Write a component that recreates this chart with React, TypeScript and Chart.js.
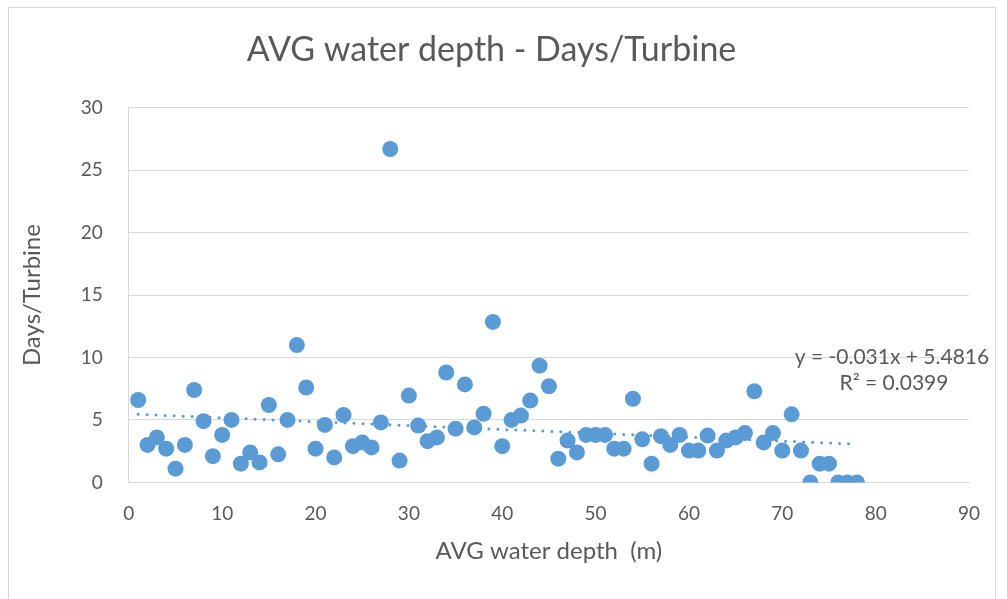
import React, { useEffect, useRef } from "react";
import { Chart, registerables } from "chart.js";

Chart.register(...registerables);

const depths: number[] = [
  1, 2, 3, 4, 5, 6, 7, 8, 9, 10, 11, 12, 13, 14, 15, 16, 17, 18, 19, 20,
  21, 22, 23, 24, 25, 26, 27, 28, 29, 30, 31, 32, 33, 34, 35, 36, 37, 38, 39, 40,
  41, 42, 43, 44, 45, 46, 47, 48, 49, 50, 51, 52, 53, 54, 55, 56, 57, 58, 59, 60,
  61, 62, 63, 64, 65, 66, 67, 68, 69, 70, 71, 72, 73, 74, 75, 76, 77, 78,
];
const daysPerTurbine: number[] = [
  6.6, 3.0, 3.6, 2.7, 1.1, 3.0, 7.4, 4.9, 2.1, 3.8, 5.0, 1.5, 2.4, 1.6, 6.2, 2.25, 5.0, 11.0, 7.6, 2.7,
  4.6, 2.0, 5.4, 2.9, 3.2, 2.8, 4.8, 26.7, 1.75, 6.95, 4.55, 3.3, 3.6, 8.8, 4.3, 7.85, 4.4, 5.5, 12.85, 2.9,
  5.0, 5.35, 6.55, 9.35, 7.7, 1.9, 3.35, 2.4, 3.8, 3.8, 3.8, 2.7, 2.7, 6.7, 3.45, 1.5, 3.7, 3.0, 3.8, 2.55,
  2.55, 3.75, 2.55, 3.35, 3.6, 3.95, 7.3, 3.2, 3.95, 2.55, 5.45, 2.55, 0, 1.5, 1.5, 0, 0, 0,
];
const xTicks: number[] = [0, 10, 20, 30, 40, 50, 60, 70, 80, 90];
const yTicks: number[] = [0, 5, 10, 15, 20, 25, 30];
const trendSlope = -0.031;
const trendIntercept = 5.4816;
const trendLabel = "y = -0.031x + 5.4816";
const r2Label = "R² = 0.0399";

const FONT = "Lato, 'Open Sans', sans-serif";
const GRAY = "#595959";

export default function App() {
  const ref = useRef<HTMLCanvasElement | null>(null);

  useEffect(() => {
    if (!ref.current) return;
    const xMin = depths[0];
    const xMax = depths[depths.length - 1];
    const framePlugin = {
      id: "frame",
      beforeDraw(chart: any) {
        const c = chart.ctx;
        c.save();
        c.fillStyle = "#ffffff";
        c.fillRect(0, 0, chart.width, chart.height);
        c.strokeStyle = "#d9d9d9";
        c.lineWidth = 1;
        c.strokeRect(8.5, 7.5, chart.width - 20, chart.height);
        c.restore();
      },
      afterDatasetsDraw(chart: any) {
        const c = chart.ctx;
        const xs = chart.scales.x;
        const ys = chart.scales.y;
        c.save();
        c.fillStyle = GRAY;
        c.font = `21px ${FONT}`;
        c.textAlign = "center";
        c.textBaseline = "middle";
        const px = xs.getPixelForValue(xMax) + 35;
        const py = ys.getPixelForValue(10);
        c.fillText(trendLabel, px, py);
        c.fillText(r2Label, px + 2, py + 26);
        c.restore();
      },
    };

    const chart = new Chart(ref.current, {
      type: "scatter",
      data: {
        datasets: [
          {
            label: "Days/Turbine",
            data: depths.map((d, i) => ({ x: d, y: daysPerTurbine[i] })),
            backgroundColor: "#5B9BD5",
            borderColor: "#5B9BD5",
            pointRadius: 8,
            pointHoverRadius: 8,
            borderWidth: 0,
          },
          {
            label: "Trend",
            type: "line",
            data: [
              { x: xMin, y: trendSlope * xMin + trendIntercept },
              { x: xMax, y: trendSlope * xMax + trendIntercept },
            ],
            borderColor: "#5B9BD5",
            borderWidth: 3,
            borderDash: [0, 9],
            borderCapStyle: "round",
            pointRadius: 0,
            fill: false,
          } as any,
        ],
      },
      options: {
        animation: false,
        responsive: false,
        layout: { padding: { left: 14, right: 38, top: 20, bottom: 29 } },
        plugins: {
          legend: { display: false },
          tooltip: { enabled: false },
          title: {
            display: true,
            text: "AVG water depth - Days/Turbine",
            color: GRAY,
            font: { family: FONT, size: 34, weight: "normal" },
            padding: { top: 10, bottom: 37 },
          },
        },
        scales: {
          x: {
            type: "linear",
            min: 0,
            max: 90,
            afterBuildTicks: (s: any) => {
              s.ticks = xTicks.map((v) => ({ value: v }));
            },
            grid: { display: false, drawTicks: false },
            border: { display: true, color: "#d9d9d9", width: 1 },
            ticks: { color: GRAY, font: { family: FONT, size: 19 }, padding: 20 },
            title: {
              display: true,
              text: "AVG water depth  (m)",
              color: GRAY,
              font: { family: FONT, size: 24 },
              padding: { top: -8 },
            },
          },
          y: {
            type: "linear",
            min: 0,
            max: 30,
            afterBuildTicks: (s: any) => {
              s.ticks = yTicks.map((v) => ({ value: v }));
            },
            grid: { color: "#d9d9d9", drawTicks: false, lineWidth: 1 },
            border: { display: true, color: "#d9d9d9", width: 1 },
            ticks: { color: GRAY, font: { family: FONT, size: 19 }, padding: 26 },
            title: {
              display: true,
              text: "Days/Turbine",
              color: GRAY,
              font: { family: FONT, size: 24 },
              padding: { bottom: 8 },
            },
          },
        },
      } as any,
      plugins: [framePlugin],
    });
    return () => chart.destroy();
  }, []);

  return (
    <div style={{ position: "absolute", left: 0, top: 0, width: 1007, height: 599 }}>
      <canvas ref={ref} width={1007} height={599} style={{ display: "block" }} />
    </div>
  );
}
